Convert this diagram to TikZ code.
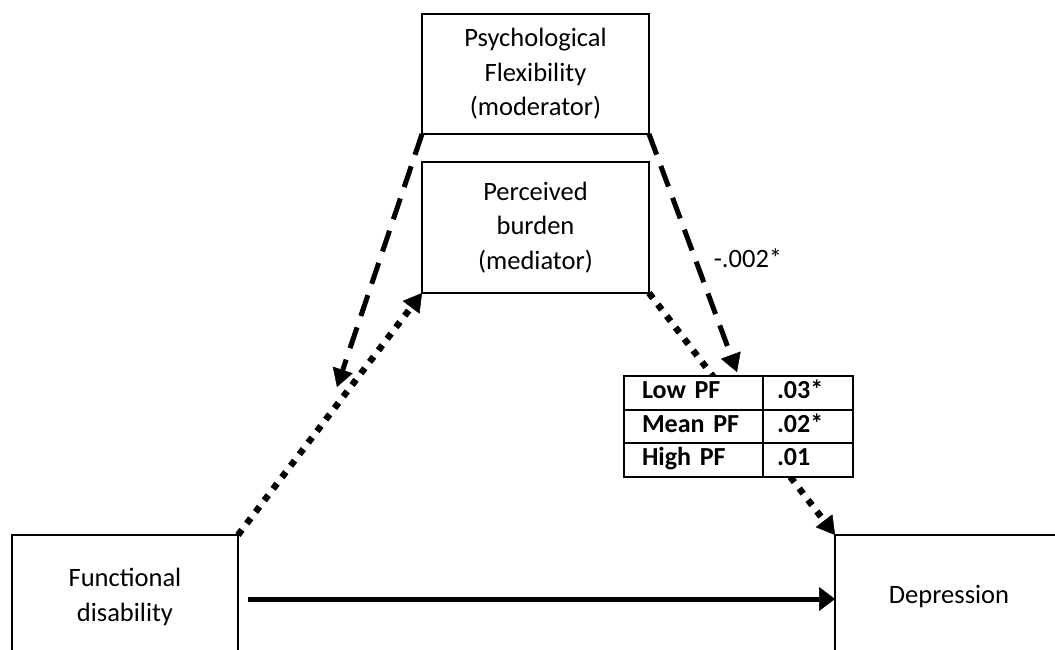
\documentclass[tikz,border=0pt]{standalone}
\usepackage{fontspec}
\setmainfont{Carlito}
\usetikzlibrary{arrows.meta}
\begin{document}
\begin{tikzpicture}[x=1pt,y=-1pt,
  txt/.style={font=\fontsize{26.5}{34.5}\selectfont},
  box/.style={draw, line width=2pt, outer sep=0pt, inner sep=0pt, align=center, txt},
  cell/.style={draw, line width=2pt, fill=white, outer sep=0pt, inner ysep=0pt,
    minimum height=33.5pt, align=left, text height=17pt, text depth=5pt,
    font=\bfseries\fontsize{26}{33}\selectfont},
  namecell/.style={cell, text width=103pt, inner xsep=18pt},
  valcell/.style={cell, text width=62pt, inner xsep=14pt},
  tip/.style={-{Triangle[length=18pt,width=21pt,line width=0.5pt]}},
  dashedarrow/.style={line width=5pt, dash pattern=on 22pt off 12pt, tip},
  dottedline/.style={line width=6.5pt, dash pattern=on 6.5pt off 8pt},
  solidarrow/.style={line width=5pt, -{Triangle[length=16pt,width=24pt,line width=0.5pt]}}
]
\useasboundingbox (0,0) rectangle (1055,649);
\clip (0,0) rectangle (1055,649);

% boxes
\node[box, minimum width=227pt, minimum height=120pt] (pf) at (535.5,74)
  {Psychological\\Flexibility\\(moderator)};
\node[box, minimum width=227pt, minimum height=131pt] (pb) at (535.5,227.5)
  {Perceived\\burden\\(mediator)};
\node[box, minimum width=226pt, minimum height=124pt] (fd) at (125,597)
  {Functional\\disability};
\node[box, minimum width=228pt, minimum height=124pt] (dep) at (949,597)
  {Depression};

% coordinates for free ends
\coordinate (modleft) at (337,387);
\coordinate (modright) at (737,372);

% paths
\draw[dottedline, tip] (fd.north east) -- (pb.south west);
\draw[dottedline, tip] (pb.south east) -- (dep.north west);
\draw[dashedarrow] (pf.south west) -- (modleft);
\draw[dashedarrow] (pf.south east) -- (modright);
\draw[solidarrow] ([xshift=10pt,yshift=-2pt]fd.east) -- ([yshift=-2pt]dep.west);

% table
\node[namecell, anchor=north west] (lowpf) at (624,376) {Low PF};
\node[valcell, anchor=west] (lowv) at (lowpf.east) {.03*};
\node[namecell, anchor=north west] (meanpf) at (lowpf.south west) {Mean PF};
\node[valcell, anchor=west] (meanv) at (meanpf.east) {.02*};
\node[namecell, anchor=north west] (highpf) at (meanpf.south west) {High PF};
\node[valcell, anchor=west] (highv) at (highpf.east) {.01};

% label
\node[txt] (lab) at (748,258) {-.002*};
\end{tikzpicture}
\end{document}
